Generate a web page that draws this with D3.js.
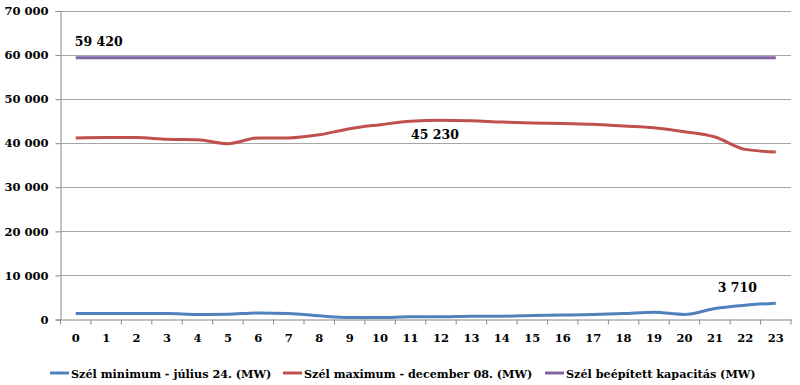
<!DOCTYPE html>
<html><head><meta charset="utf-8">
<script src="https://cdn.jsdelivr.net/npm/d3@7"></script>
<style>body{margin:0;background:#fff}svg{display:block}text{font-family:"DejaVu Serif",serif;font-weight:bold;fill:#000}</style>
</head><body><svg id="c" width="800" height="385"></svg>
<script>
const hours = d3.range(0, 24).map(String);
const minSeries = [1360,1360,1360,1360,1140,1200,1500,1360,830,450,450,600,600,750,750,900,1000,1140,1360,1670,1140,2500,3260,3710];
const maxSeries = [41200,41300,41300,40900,40800,39900,41200,41200,41900,43300,44200,45000,45230,45100,44800,44600,44500,44300,43900,43500,42600,41400,38600,38000];
const capSeries = hours.map(() => 59420);
const seriesNames = ["Szél minimum - július 24. (MW)","Szél maximum - december 08. (MW)","Szél beépített kapacitás (MW)"];
const colors = ["#4F81BD","#C0504D","#8064A2"];
const yTicks = [0,10000,20000,30000,40000,50000,60000,70000];
const labels = [{s:2,i:0,v:59420,text:"59 420",dy:-12},{s:1,i:12,v:45230,text:"45 230",dy:19},{s:0,i:22,v:3710,text:"3 710",dy:-11}];

const svg = d3.select("#c");
const L=60.5, R=791, T=11, B=319.5;
const x = d3.scaleBand().domain(hours).range([L,R]);
const y = d3.scaleLinear().domain([0,70000]).range([B,T]);
const fmt = v => d3.format(",")(v).replace(/,/g," ");

// grid
svg.append("g").selectAll("line").data(yTicks.slice(1)).join("line")
  .attr("x1",L).attr("x2",R).attr("y1",d=>Math.round(y(d))+0.5).attr("y2",d=>Math.round(y(d))+0.5)
  .attr("stroke","#a6a6a6").attr("stroke-width",1);

// y axis
const ya = svg.append("g").attr("transform",`translate(${L},0)`)
  .call(d3.axisLeft(y).tickValues(yTicks).tickFormat(fmt).tickSize(5).tickPadding(7));
ya.select(".domain").attr("stroke","#888");
ya.selectAll(".tick line").attr("stroke","#888");
ya.selectAll("text").style("font-size","11.5px");

// x axis
const xa = svg.append("g").attr("transform",`translate(0,${B})`)
  .call(d3.axisBottom(x).tickSize(0).tickPadding(14));
xa.select(".domain").attr("stroke","#888");
xa.selectAll("text").style("font-size","11.5px");
const bounds = d3.range(0,25).map(i => L + i*x.step());
svg.append("g").selectAll("line").data(bounds).join("line")
  .attr("x1",d=>d).attr("x2",d=>d).attr("y1",B).attr("y2",B+5).attr("stroke","#888");

// lines
const all = [minSeries,maxSeries,capSeries];
const line = d3.line().x((d,i)=>x(hours[i])+x.bandwidth()/2).y(d=>y(d)).curve(d3.curveMonotoneX);
[2,1,0].forEach(s=>{
  svg.append("path").datum(all[s]).attr("d",line).attr("fill","none")
    .attr("stroke",colors[s]).attr("stroke-width",3).attr("stroke-linejoin","round");
});

// data labels
labels.forEach(l=>{
  svg.append("text").attr("x",x(hours[l.i])+x.bandwidth()/2 + (l.s===0? -8 : (l.s===2? 23:-6)))
    .attr("y",y(l.v)+l.dy).attr("text-anchor","middle").style("font-size","12.5px").text(l.text);
});

// legend
const legX = [50,283,545];
seriesNames.forEach((n,i)=>{
  const g = svg.append("g").attr("transform",`translate(${legX[i]},373)`);
  g.append("line").attr("x1",0).attr("x2",19).attr("y1",0).attr("y2",0).attr("stroke",colors[i]).attr("stroke-width",3);
  g.append("text").attr("x",21).attr("y",4.5).style("font-size","11.2px").text(n);
});
</script></body></html>
